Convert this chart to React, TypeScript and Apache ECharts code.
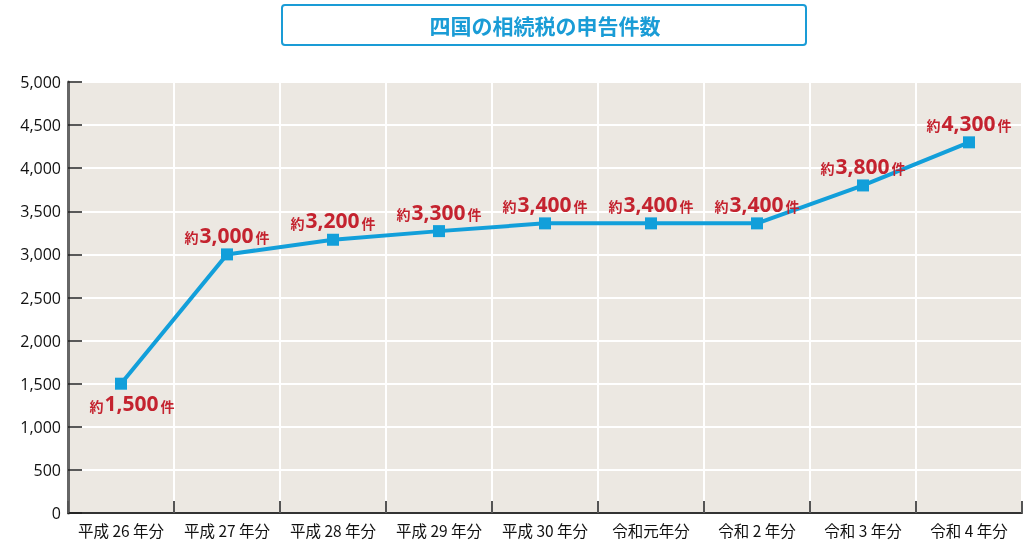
import React, { useEffect, useRef } from "react";
import * as echarts from "echarts";

const categories = ["平成 26 年分", "平成 27 年分", "平成 28 年分", "平成 29 年分", "平成 30 年分", "令和元年分", "令和 2 年分", "令和 3 年分", "令和 4 年分"];
const values = [1500, 3000, 3170, 3270, 3360, 3360, 3360, 3800, 4300];
const labelTexts = ["1,500", "3,000", "3,200", "3,300", "3,400", "3,400", "3,400", "3,800", "4,300"];
const titleText = "四国の相続税の申告件数";

export default function App() {
  const ref = useRef<HTMLDivElement>(null);
  useEffect(() => {
    const chart = echarts.init(ref.current!, null, { renderer: "svg" });
    const rich = {
      s: { fontSize: 14, fontWeight: "bold", color: "#c4232f", fontFamily: "Noto Sans CJK JP", padding: [5, 1, 0, 0] },
      b: { fontSize: 21, fontWeight: "bold", color: "#c4232f", fontFamily: "Open Sans" },
      t: { fontSize: 14, fontWeight: "bold", color: "#c4232f", fontFamily: "Noto Sans CJK JP", padding: [5, 0, 0, 2] },
    };
    chart.setOption({
      animation: false,
      grid: { left: 68, right: 1, top: 82, bottom: 31, show: true, backgroundColor: "#ece8e2", borderWidth: 0 },
      graphic: [
        {
          type: "rect",
          shape: { x: 282, y: 5, width: 524, height: 40, r: 3 },
          style: { fill: "#ffffff", stroke: "#1a9cd6", lineWidth: 2 },
        },
        {
          type: "text",
          x: 545,
          y: 25,
          style: {
            text: titleText,
            fill: "#1a9cd6",
            font: "bold 21px 'Noto Sans CJK JP'",
            textAlign: "center",
            textVerticalAlign: "middle",
          },
        },
      ],
      xAxis: {
        type: "category",
        data: categories,
        boundaryGap: true,
        axisLine: { lineStyle: { color: "#333", width: 2 } },
        axisTick: { show: true, inside: true, interval: 0, length: 12, lineStyle: { color: "#555", width: 2 } },
        splitLine: { show: true, interval: 0, lineStyle: { color: "#ffffff", width: 2 } },
        axisLabel: { color: "#111", fontSize: 15.5, interval: 0, hideOverlap: false, fontFamily: "Noto Sans CJK JP", margin: 9 },
      },
      yAxis: {
        type: "value",
        min: 0,
        max: 5000,
        interval: 500,
        axisLine: { show: true, lineStyle: { color: "#666", width: 3 } },
        axisTick: { show: true, inside: true, length: 14, lineStyle: { color: "#222", width: 1.5 } },
        splitLine: { show: true, lineStyle: { color: "#ffffff", width: 2 } },
        axisLabel: {
          color: "#111",
          fontSize: 16,
          fontFamily: "Open Sans",
          margin: 7,
          formatter: (v: number) => v.toLocaleString("en-US"),
        },
      },
      series: [
        {
          type: "line",
          data: values.map((v, i) => ({
            value: v,
            label: {
              position: i === 0 ? "bottom" : "top",
              offset: i === 0 ? [11, -2] : [0, 2],
            },
          })),
          lineStyle: { color: "#129fda", width: 4 },
          itemStyle: { color: "#129fda" },
          symbol: "rect",
          symbolSize: 12,
          label: {
            show: true,
            formatter: (p: any) => `{s|約}{b|${labelTexts[p.dataIndex]}}{t|件}`,
            rich,
          },
        },
      ],
    });
    return () => chart.dispose();
  }, []);
  return <div ref={ref} style={{ position: "fixed", left: 0, top: 0, width: 1023, height: 544 }} />;
}
